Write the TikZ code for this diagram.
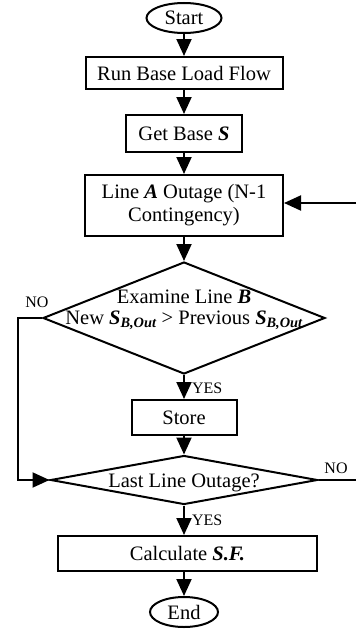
\documentclass[tikz,border=0pt]{standalone}
\usepackage{fontspec}
\setmainfont{Liberation Serif}
\usetikzlibrary{arrows.meta,shapes.geometric}
\newcommand{\bi}[1]{{\bfseries\itshape #1}}

\begin{document}
\begin{tikzpicture}[x=1pt, y=-1pt, >={Triangle[length=17pt,width=15pt]},
    every path/.style={line width=2pt},
    every node/.style={font=\fontsize{20.5}{22}\selectfont},
    terminal/.style={draw, ellipse, inner sep=0pt},
    procbox/.style={draw, rectangle, inner sep=0pt, align=center},
    decision/.style={draw, diamond, inner sep=0pt},
    tag/.style={font=\fontsize{16}{18}\selectfont, inner sep=1pt}]
          \useasboundingbox (0,0) rectangle (356,629);

          % main column
          \node[terminal, minimum width=75pt, minimum height=30pt] (start) at (184,18) {Start};
          \node[procbox, minimum width=197pt, minimum height=32pt] (runlf) at (184,73) {Run Base Load Flow};
          \node[procbox, minimum width=116pt, minimum height=37pt] (getbase) at (184,133.5) {Get Base \bi{S}};
          \node[procbox, minimum width=198pt, minimum height=61pt, font=\fontsize{20.5}{23}\selectfont] (outage) at (184,205.5)
            {Line \bi{A} Outage (N-1\\Contingency)};
          \node[decision, minimum width=282pt, minimum height=112pt] (examine) at (184,318) {};
          \node[align=center, font=\fontsize{20.5}{21}\selectfont] (examtxt) at (184,310)
            {Examine Line \bi{B}\\New \bi{S}\textsubscript{\bi{B,Out}} > Previous \bi{S}\textsubscript{\bi{B,Out}}};
          \node[procbox, minimum width=105pt, minimum height=35pt] (store) at (184,417.5) {Store};
          \node[decision, minimum width=267pt, minimum height=49pt] (lastline) at (184,480) {};
          \node (lasttxt) at (184,483) {Last Line Outage?};
          \node[procbox, minimum width=259pt, minimum height=35pt] (calcsf) at (187.5,553.5) {Calculate \bi{S.F.}};
          \node[terminal, minimum width=68pt, minimum height=30pt] (finish) at (184,612) {End};

          % loop ends at the right border
          \coordinate (backin) at (356,203);
          \coordinate (noout) at (356,480);

          % straight arrows down the column
          \draw[->] (start) -- (runlf);
          \draw[->] (runlf) -- (getbase);
          \draw[->] (getbase) -- (outage);
          \draw[->] (outage) -- (examine.north);
          \draw[->] (examine.south) -- (store) node[tag, pos=0.54, right, xshift=6pt] {YES};
          \draw[->] (store) -- (lastline.north);
          \draw[->] (lastline.south) -- (lastline.south |- calcsf.north) node[tag, pos=0.5, right, xshift=6pt] {YES};
          \draw[->] (calcsf.south -| finish) -- (finish);

          % NO branches
          \draw[->] (examine.west) -- (18,318) -- (18,480) -- (lastline.west);
          \node[tag] (nofirst) at (37,302) {NO};
          \draw (lastline.east) -- (noout);
          \node[tag] (nosecond) at (336,468) {NO};
          \draw[->] (backin) -- (backin -| outage.east);
        \end{tikzpicture}
\end{document}
